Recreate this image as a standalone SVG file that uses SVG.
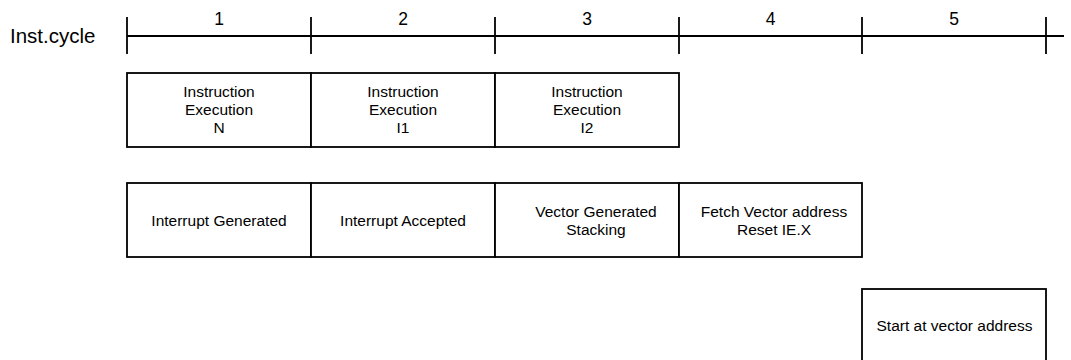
<svg xmlns="http://www.w3.org/2000/svg" width="1071" height="360" viewBox="0 0 1071 360">
<style>
.bx{fill:#fff;stroke:#000;stroke-width:1.8}
.ln{stroke:#000;stroke-width:1.8;fill:none}
.t{font-family:"Liberation Sans",Arial,sans-serif;font-size:15.5px;fill:#000;text-anchor:middle}
.n{font-family:"Liberation Sans",Arial,sans-serif;font-size:17.5px;fill:#000;text-anchor:middle}
.lab{font-family:"Liberation Sans",Arial,sans-serif;font-size:20.5px;fill:#000}
</style>
<rect width="1071" height="360" fill="#fff"/>
<g id="timeline">
<text class="lab" x="10" y="43">Inst.cycle</text>
<line class="ln" x1="127" y1="36" x2="1064" y2="36"/>
<line class="ln" x1="127" y1="17" x2="127" y2="54"/>
<line class="ln" x1="311" y1="17" x2="311" y2="54"/>
<line class="ln" x1="495" y1="17" x2="495" y2="54"/>
<line class="ln" x1="679" y1="17" x2="679" y2="54"/>
<line class="ln" x1="862" y1="17" x2="862" y2="54"/>
<line class="ln" x1="1046" y1="17" x2="1046" y2="54"/>
<text class="n" x="219" y="25">1</text>
<text class="n" x="403" y="25">2</text>
<text class="n" x="587" y="25">3</text>
<text class="n" x="770.5" y="25">4</text>
<text class="n" x="954" y="25">5</text>
</g>
<g id="connectors"></g>
<g id="exec-n">
<rect class="bx" x="127" y="73" width="184" height="74"/>
<text class="t" x="219" y="97">Instruction</text>
<text class="t" x="219" y="115">Execution</text>
<text class="t" x="219" y="133">N</text>
</g>
<g id="exec-i1">
<rect class="bx" x="311" y="73" width="184" height="74"/>
<text class="t" x="403" y="97">Instruction</text>
<text class="t" x="403" y="115">Execution</text>
<text class="t" x="403" y="133">I1</text>
</g>
<g id="exec-i2">
<rect class="bx" x="495" y="73" width="184" height="74"/>
<text class="t" x="587" y="97">Instruction</text>
<text class="t" x="587" y="115">Execution</text>
<text class="t" x="587" y="133">I2</text>
</g>
<g id="int-gen">
<rect class="bx" x="127" y="183" width="184" height="74"/>
<text class="t" x="219" y="225.5">Interrupt Generated</text>
</g>
<g id="int-acc">
<rect class="bx" x="311" y="183" width="184" height="74"/>
<text class="t" x="403" y="225.5">Interrupt Accepted</text>
</g>
<g id="vector-gen">
<rect class="bx" x="495" y="183" width="184" height="74"/>
<text class="t" x="596" y="216.5">Vector Generated</text>
<text class="t" x="596" y="234.5">Stacking</text>
</g>
<g id="fetch-vector">
<rect class="bx" x="679" y="183" width="183" height="74"/>
<text class="t" x="774" y="216.5">Fetch Vector address</text>
<text class="t" x="774" y="234.5">Reset IE.X</text>
</g>
<g id="start-vector">
<rect class="bx" x="862" y="289" width="184" height="74"/>
<text class="t" x="954.5" y="330.5">Start at vector address</text>
</g>
</svg>
